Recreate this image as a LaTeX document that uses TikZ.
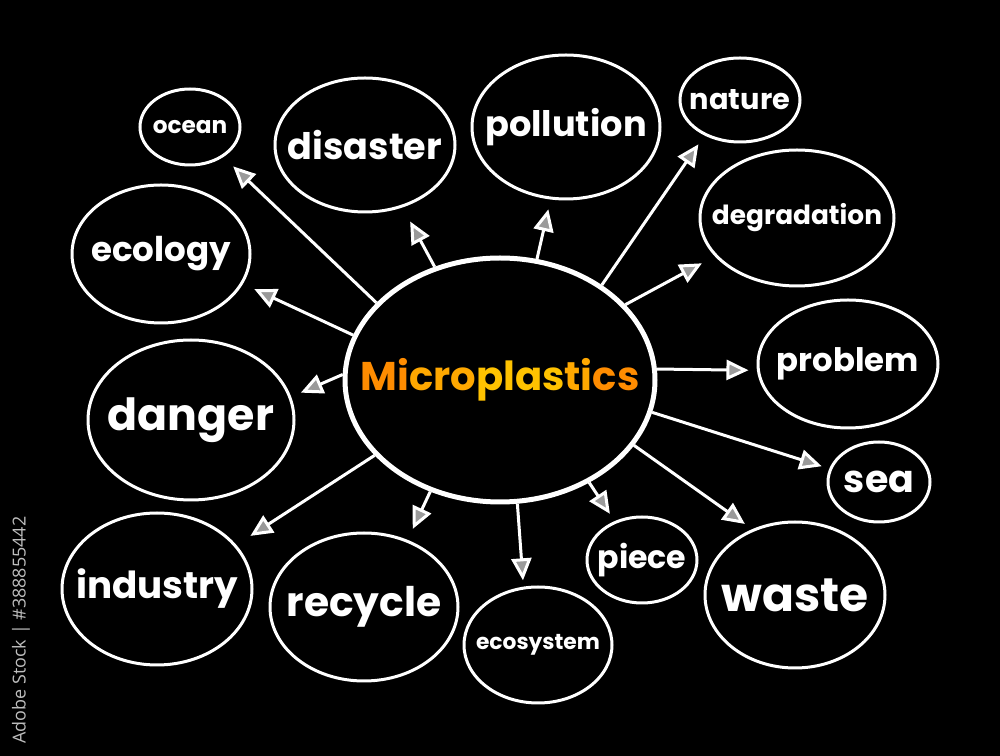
\documentclass[tikz,border=0pt]{standalone}
\usepackage{fontspec}
\setmainfont{Poppins}
\newfontfamily\wmfont{Open Sans}
\usetikzlibrary{shapes.geometric,arrows.meta}
\definecolor{board}{HTML}{000000}
\definecolor{chalk}{HTML}{FFFFFF}
\definecolor{hatch}{HTML}{9A9A9A}
\definecolor{orA}{HTML}{FF8C00}
\definecolor{orB}{HTML}{FFA800}
\definecolor{orC}{HTML}{FFC200}
\definecolor{mark}{HTML}{BEBEBE}
\begin{document}
\begin{tikzpicture}[x=.1mm,y=-.1mm,
  bub/.style={ellipse,draw=chalk,line width=.3mm,inner sep=0pt},
  word/.style={text=chalk,font=\bfseries\fontsize{#1}{#1}\selectfont},
  arr/.style={-{Triangle[length=2.2mm,width=2mm,fill=hatch]},draw=chalk,line width=.3mm,shorten >=#1mm}]
\fill[board] (0,0) rectangle (1000,756);
% centre
\node[bub,line width=.5mm,minimum width=31mm,minimum height=24.4mm,label={[word=11.4]center:{\color{orA}Mi\color{orB}cro\color{orC}plas\color{orB}ti\color{orA}cs}}] (mp) at (500,380) {};
% bubbles round it
\node[bub,minimum width=10mm,minimum height=7.6mm,label={[word=6.6]center:ocean}] (ocean) at (190,127) {};
\node[bub,minimum width=18mm,minimum height=13.4mm,label={[word=10.4]center:disaster}] (disaster) at (365,145) {};
\node[bub,minimum width=18.8mm,minimum height=14.4mm,label={[word=10]center:pollution}] (pollution) at (566,127) {};
\node[bub,minimum width=12mm,minimum height=8.4mm,label={[word=8.2]center:nature}] (nature) at (740,100) {};
\node[bub,minimum width=19.4mm,minimum height=13.6mm,label={[word=7.5]center:degradation}] (degradation) at (797,218) {};
\node[bub,minimum width=18mm,minimum height=12.8mm,label={[word=9.2]center:problem}] (problem) at (848,364) {};
\node[bub,minimum width=10.2mm,minimum height=8mm,label={[word=10.8]center:sea}] (sea) at (879,482) {};
\node[bub,minimum width=18mm,minimum height=14.6mm,label={[word=13.4]center:waste}] (waste) at (795,595) {};
\node[bub,minimum width=11mm,minimum height=8.6mm,label={[word=9]center:piece}] (piece) at (642,560) {};
\node[bub,minimum width=14.8mm,minimum height=11.6mm,label={[word=6.2]center:ecosystem}] (ecosystem) at (538,645) {};
\node[bub,minimum width=18.8mm,minimum height=14.8mm,label={[word=11.6]center:recycle}] (recycle) at (364,607) {};
\node[bub,minimum width=19mm,minimum height=15.2mm,label={[word=10.6]center:industry}] (industry) at (157,589) {};
\node[bub,minimum width=20.6mm,minimum height=16mm,label={[word=12.6]center:danger}] (danger) at (191,420) {};
\node[bub,minimum width=17.8mm,minimum height=13.8mm,label={[word=9.7]center:ecology}] (ecology) at (161,254) {};
% arrows out of the centre
\draw[arr=1.35] (mp.148)--(ocean.-42);
\draw[arr=1.6] (mp.120)--(disaster.-59);
\draw[arr=1] (mp.73)--(pollution.258);
\draw[arr=1.07] (mp.43)--(nature.225);
\draw[arr=1.47] (mp.31)--(degradation.205);
\draw[arr=.85] (mp.4)--(problem.184);
\draw[arr=.8] (mp.-12)--(sea.165);
\draw[arr=.9] (mp.-26)--(waste.123);
\draw[arr=.87] (mp.-49)--(piece.125);
\draw[arr=.63] (mp.-82)--(ecosystem.104);
\draw[arr=1.2] (mp.-122)--(recycle.57);
\draw[arr=1.67] (mp.211)--(industry.29);
\draw[arr=1.05] (mp.178)--(danger.13);
\draw[arr=1.25] (mp.163)--(ecology.-20);
\node[rotate=90,text=mark,font=\wmfont\fontsize{5.1}{5.1}\selectfont] (wm) at (21,630) {Adobe Stock | \#388855442};
\end{tikzpicture}
\end{document}
